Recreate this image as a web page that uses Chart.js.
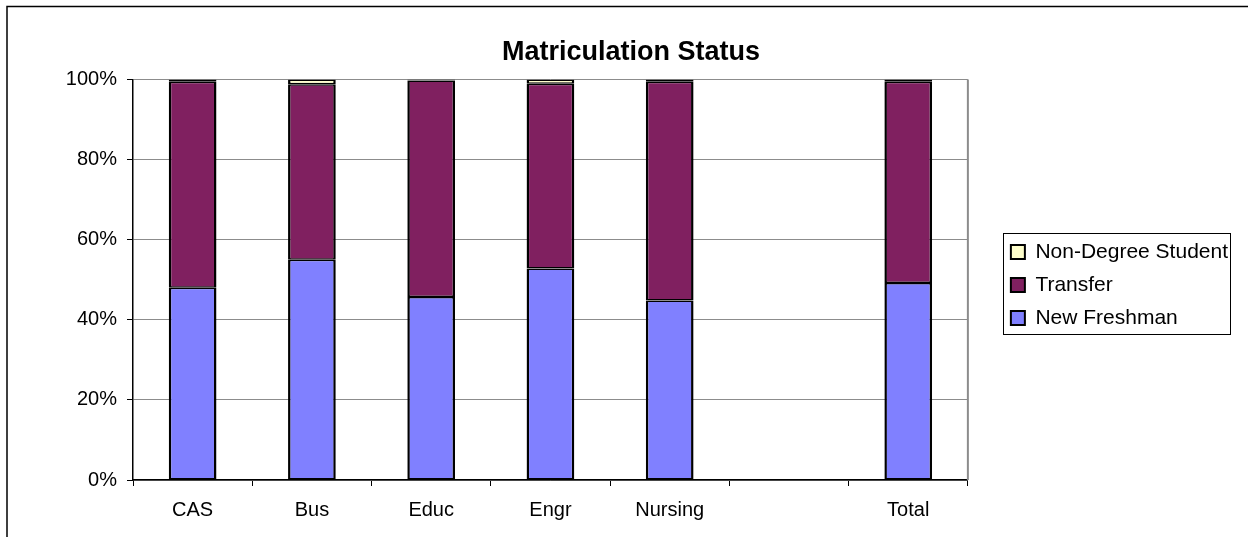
<!DOCTYPE html>
<html>
<head>
<meta charset="utf-8">
<script src="https://cdn.jsdelivr.net/npm/chart.js@4"></script>
<style>
  html, body { margin: 0; padding: 0; background: #fff; }
  #wrap { width: 1248px; height: 537px; position: relative; }
</style>
</head>
<body>
<div id="wrap"><canvas id="matric-bar"></canvas></div>
<script>
Chart.defaults.font.family = 'Liberation Sans, Arial, sans-serif'
Chart.defaults.color = '#000'

const schools = ['CAS', 'Bus', 'Educ', 'Engr', 'Nursing', '', 'Total'];
const newFreshman = [48, 55, 45.7, 52.8, 44.8, null, 49.2];
const transfer = [51.4, 43.8, 54, 46.1, 54.6, null, 50.2];
const nonDegree = [0.6, 1.2, 0.3, 1.1, 0.6, null, 0.6];
const yTicks = [0, 20, 40, 60, 80, 100];

// the legend sits a bit lower and further right than Chart.js puts it
const legendShiftX = 31;
const legendShiftY = 13;

// frame round the whole chart, gray right edge of the plot area, box round the legend
const framePlugin = {
    id: 'frame',
    afterLayout(chart) {
        const lg = chart.legend;
        lg.left += legendShiftX;
        lg.right += legendShiftX;
        lg.top += legendShiftY;
        lg.bottom += legendShiftY;
    },
    beforeDraw(chart) {
        const ctx = chart.ctx;
        ctx.save();
        ctx.strokeStyle = '#000';
        ctx.lineWidth = 1.5;
        ctx.beginPath();
        ctx.moveTo(7, chart.height);
        ctx.lineTo(7, 6.5);
        ctx.lineTo(chart.width, 6.5);
        ctx.stroke();
        ctx.restore();
    },
    afterDraw(chart) {
        const ctx = chart.ctx;
        const a = chart.chartArea;
        ctx.save();
        ctx.strokeStyle = '#8c8c8c';
        ctx.lineWidth = 2;
        ctx.beginPath();
        ctx.moveTo(a.right, a.top);
        ctx.lineTo(a.right, a.bottom);
        ctx.stroke();
        const boxes = chart.legend.legendHitBoxes;
        if (boxes && boxes.length) {
            let l = Infinity, t = Infinity, r = -Infinity, b = -Infinity;
            boxes.forEach(h => {
                l = Math.min(l, h.left); t = Math.min(t, h.top);
                r = Math.max(r, h.left + h.width); b = Math.max(b, h.top + h.height);
            });
            ctx.strokeStyle = '#000';
            ctx.lineWidth = 1;
            ctx.strokeRect(Math.round(l - 8) + 0.5, Math.round(t - 9) + 0.5, Math.round(r - l + 10), Math.round(b - t + 14));
        }
        ctx.restore();
    }
};

const barStyle = {
    borderColor: '#000',
    borderWidth: { left: 2.5, right: 2.5, top: 1.5, bottom: 1.5 },
    borderSkipped: false,
    barPercentage: 0.4,
    categoryPercentage: 1.0
};

const data = {
    labels: schools,
    datasets: [
        Object.assign({ label: 'New Freshman', data: newFreshman, backgroundColor: '#8080ff' }, barStyle),
        Object.assign({ label: 'Transfer', data: transfer, backgroundColor: '#802060' }, barStyle),
        Object.assign({ label: 'Non-Degree Student', data: nonDegree, backgroundColor: '#ffffcc' }, barStyle)
    ]
};

const options = {
    responsive: true,
    maintainAspectRatio: false,
    animation: false,
    layout: {
        padding: { top: 10, left: 55, right: 41, bottom: 3 }
    },
    scales: {
        x: {
            stacked: true,
            grid: {
                offset: true,
                drawOnChartArea: false,
                tickLength: 6,
                tickColor: '#000'
            },
            border: { color: '#000', width: 1.5 },
            ticks: {
                font: { size: 20 },
                padding: 12
            }
        },
        y: {
            stacked: true,
            min: 0,
            max: 100,
            afterBuildTicks: function (axis) {
                axis.ticks = yTicks.map(v => ({ value: v }));
            },
            afterFit: function (axis) {
                axis.width = 78;
            },
            grid: {
                color: '#8c8c8c',
                lineWidth: 1,
                tickLength: 6,
                tickColor: '#000'
            },
            border: { color: '#000', width: 1.5 },
            ticks: {
                font: { size: 20 },
                padding: 10,
                callback: function (value) {
                    return value + '%'
                }
            }
        }
    },
    plugins: {
        title: {
            display: true,
            text: 'Matriculation Status',
            font: { size: 27, weight: 'bold' },
            padding: { top: 26, bottom: 11 }
        },
        legend: {
            position: 'right',
            reverse: true,
            labels: {
                boxWidth: 14,
                boxHeight: 14,
                padding: 12,
                font: { size: 21 }
            }
        },
        tooltip: { enabled: false }
    }
};

const ctxMatric = document.getElementById('matric-bar');
const matricBar = new Chart(ctxMatric, {
    type: 'bar',
    data: data,
    options: options,
    plugins: [framePlugin]
});
</script>
</body>
</html>
